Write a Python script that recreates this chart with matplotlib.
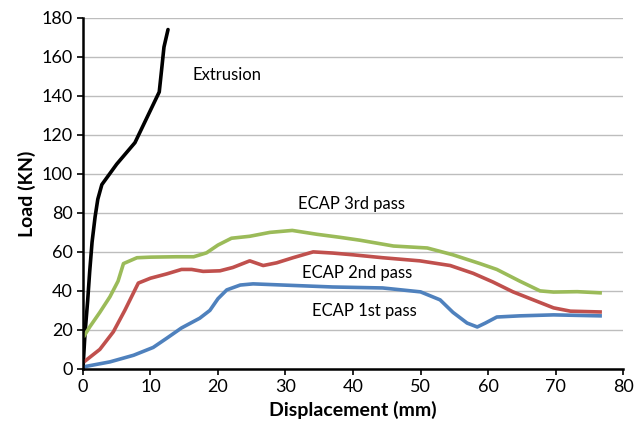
import matplotlib
matplotlib.use("Agg")
import matplotlib.pyplot as plt

plt.rcParams['font.family'] = ['Lato', 'DejaVu Sans']

# values
ext_x = [0, 0.3, 0.7, 1.0, 1.35, 1.8, 2.2, 2.8, 5.0, 7.7, 9.5, 11.3, 11.7, 12.0, 12.6]
ext_y = [0, 18, 35, 50, 65, 78, 87, 94.5, 105, 116, 129, 142, 155, 165, 174]

p3_x = [0.2, 1.0, 2.5, 4.0, 5.2, 6.0, 8.0, 10.0, 11.9, 13.8, 16.4, 18.3, 20.0, 22.0, 24.7,
        27.7, 31.0, 34.7, 38.0, 41.0, 46.0, 51.0, 54.8, 58.8, 61.3, 64.7, 67.7, 69.7,
        73.2, 76.6]
p3_y = [17, 21.5, 29, 37, 45, 54, 57, 57.3, 57.4, 57.5, 57.5, 59.5, 63.5, 67, 68,
        70, 71, 69, 67.5, 66, 63, 62, 58.5, 54, 51, 45, 40, 39.4,
        39.6, 39]

p2_x = [0.3, 2.5, 4.5, 6.2, 7.2, 8.2, 10.0, 12.4, 14.6, 16.1, 17.8, 20.3, 22.2, 24.7,
        26.7, 28.7, 31.1, 34.1, 37.0, 40.0, 44.4, 49.9, 54.4, 57.8, 60.7, 63.7,
        66.7, 69.7, 72.2, 76.6]
p2_y = [4, 10, 19, 30, 37, 44, 46.5, 48.7, 51, 51, 50, 50.3, 52, 55.4,
        53, 54.4, 57, 60, 59.4, 58.5, 57, 55.4, 53, 49, 44.6, 39.5,
        35.4, 31.3, 29.6, 29.2]

p1_x = [0.3, 4.0, 7.5, 10.4, 12.4, 14.6, 17.3, 18.8, 20.0, 21.3, 23.3, 25.2, 29.6,
        37.0, 44.4, 50.0, 52.9, 54.8, 56.9, 58.4, 59.6, 61.3, 64.7, 69.7, 76.6]
p1_y = [1.2, 3.6, 7, 11, 15.7, 21, 26, 30, 36, 40.5, 43, 43.6, 43,
        42, 41.5, 39.5, 35.4, 29, 23.5, 21.5, 23.5, 26.6, 27.2, 27.7, 27.2]

fig = plt.figure(figsize=(6.43, 4.25), dpi=100)
ax = fig.add_axes([0.129, 0.132, 0.840, 0.826])

ax.plot(ext_x, ext_y, color="black", lw=2.6, solid_capstyle="round")
ax.plot(p3_x, p3_y, color="#9BBB59", lw=2.6)
ax.plot(p2_x, p2_y, color="#C0504D", lw=2.6)
ax.plot(p1_x, p1_y, color="#4F81BD", lw=2.6)

ax.text(16.3, 150.8, "Extrusion", fontsize=12, va="center")
ax.text(31.9, 84.6, "ECAP 3rd pass", fontsize=12, va="center")
ax.text(32.4, 49.2, "ECAP 2nd pass", fontsize=12, va="center")
ax.text(33.9, 29.7, "ECAP 1st pass", fontsize=12, va="center")

ax.set_xlim(0, 80)
ax.set_ylim(0, 180)
ax.set_xticks(range(0, 81, 10))
ax.set_yticks(range(0, 181, 20))
ax.yaxis.grid(True, color="#bdbdbd", lw=1)
ax.set_axisbelow(True)
for s in ["top", "right"]:
    ax.spines[s].set_visible(False)
for s in ["left", "bottom"]:
    ax.spines[s].set_linewidth(1.8)
ax.tick_params(labelsize=13, width=1.2, length=4)
ax.set_xlabel("Displacement (mm)", fontsize=14, fontweight="bold")
ax.set_ylabel("Load (KN)", fontsize=14, fontweight="bold")

fig.savefig("out.png", dpi=100)
